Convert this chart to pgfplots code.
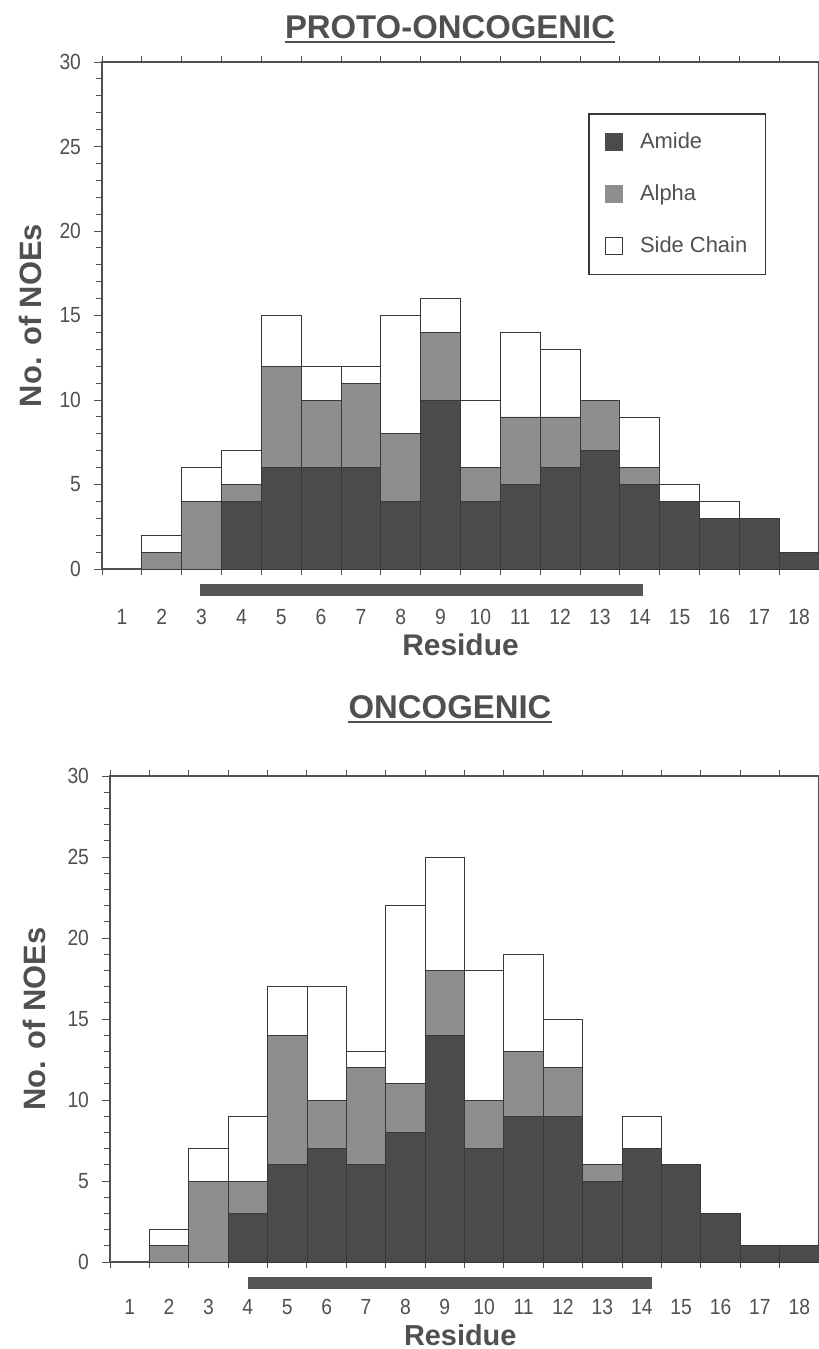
\documentclass[border=0pt]{standalone}
\usepackage{pgfplots}
\pgfplotsset{compat=1.18}
\usepackage{pgfplotstable}
\usepackage{fontspec}
\setmainfont{Liberation Sans}
\newfontfamily\narrow[FakeStretch=0.88]{Liberation Sans}

\definecolor{ink}{HTML}{505050}
\definecolor{edge}{HTML}{383838}
\definecolor{amide}{HTML}{4B4B4B}
\definecolor{alphag}{HTML}{8E8E8E}
\definecolor{barc}{HTML}{555555}

% residue, amide, alpha (added on top), side chain (added on top)
\pgfplotstableread{
res amide alpha side
1  0  0  0
2  0  1  1
3  0  4  2
4  4  1  2
5  6  6  3
6  6  4  2
7  6  5  1
8  4  4  7
9  10 4  2
10 4  2  4
11 5  4  5
12 6  3  4
13 7  3  0
14 5  1  3
15 4  0  1
16 3  0  1
17 3  0  0
18 1  0  0
}\proto

\pgfplotstableread{
res amide alpha side
1  0  0  0
2  0  1  1
3  0  5  2
4  3  2  4
5  6  8  3
6  7  3  7
7  6  6  1
8  8  3  11
9  14 4  7
10 7  3  8
11 9  4  6
12 9  3  3
13 5  1  0
14 7  0  2
15 6  0  0
16 3  0  0
17 1  0  0
18 1  0  0
}\onco

\pgfplotsset{noeaxis/.style={
  ybar stacked, bar width=1,
  scale only axis,
  xmin=0.5, xmax=18.5, ymin=0, ymax=30,
  xtick={1,...,18},
  major x tick style={draw=none},
  minor xtick={0.5,1.5,...,18.5},
  ytick={0,5,...,30},
  minor ytick={1,...,29},
  tick align=outside,
  major tick length=4bp, minor tick length=3bp,
  axis line style={ink, line width=0.6bp},
  tick style={ink, line width=0.5bp},
  /pgf/number format/assume math mode=true,
  tick label style={font=\narrow\fontsize{11}{13}\selectfont, text=ink},
  xticklabel style={anchor=center, yshift=-20bp, inner sep=0pt},
  yticklabel style={xshift=-3bp},
  xlabel={Residue}, ylabel={No. of NOEs},
  clip=false,
}}

\begin{document}
\begin{tikzpicture}
\useasboundingbox (0,0) rectangle (409.5bp,-674.5bp);

% titles
\coordinate (u1) at (0,-21bp);
\node[font=\bfseries\fontsize{16.5}{19}\selectfont, text=ink, inner sep=0pt] (t1) at (225bp,-13.5bp) {PROTO-ONCOGENIC};
\draw[ink, line width=1bp] (t1.west |- u1) -- (t1.east |- u1);
\coordinate (u2) at (0,-361bp);
\node[font=\bfseries\fontsize{16.5}{19}\selectfont, text=ink, inner sep=0pt] (t2) at (225bp,-353.5bp) {ONCOGENIC};
\draw[ink, line width=1bp] (t2.west |- u2) -- (t2.east |- u2);

% top panel
\begin{axis}[noeaxis,
  at={(51bp,-284.5bp)}, anchor=south west,
  width=358.5bp, height=253.5bp,
  every axis x label/.style={at={(axis description cs:0.5,0)}, anchor=center, yshift=-38bp,
    inner sep=0pt, font=\bfseries\fontsize{15}{18}\selectfont, text=ink},
  every axis y label/.style={at={(axis description cs:-0.1,0.5)}, rotate=90, anchor=center,
    font=\bfseries\fontsize{15.5}{18}\selectfont, text=ink},
  legend style={at={(0.678,0.899)}, anchor=north west, draw=edge, line width=0.7bp,
    font=\fontsize{11}{13}\selectfont, text=ink, row sep=12.5bp, column sep=7.5bp,
    inner xsep=8bp, inner ysep=7.5bp, nodes={inner xsep=1bp}},
  legend cell align=left,
]
\addplot[fill=amide, draw=edge, line width=0.4bp,
  legend image code/.code={\fill[amide] (0bp,-4.25bp) rectangle (8.5bp,4.25bp);}]
  table[x=res, y=amide] {\proto};
\addplot[fill=alphag, draw=edge, line width=0.4bp,
  legend image code/.code={\fill[alphag] (0bp,-4.25bp) rectangle (8.5bp,4.25bp);}]
  table[x=res, y=alpha] {\proto};
\addplot[fill=white, draw=edge, line width=0.4bp,
  legend image code/.code={\draw[edge, line width=0.6bp, fill=white] (0bp,-4.25bp) rectangle (8.5bp,4.25bp);}]
  table[x=res, y=side] {\proto};
\legend{Amide, Alpha, Side Chain}
\fill[barc] (axis cs:2.96,-0.89) rectangle (axis cs:14.07,-1.6);
\end{axis}

% bottom panel
\begin{axis}[noeaxis,
  at={(55bp,-631bp)}, anchor=south west,
  width=354.5bp, height=243bp,
  xticklabel style={yshift=1.5bp},
  every axis x label/.style={at={(axis description cs:0.494,0)}, anchor=center, yshift=-36.5bp,
    inner sep=0pt, font=\bfseries\fontsize{14.5}{17}\selectfont, text=ink},
  every axis y label/.style={at={(axis description cs:-0.107,0.5)}, rotate=90, anchor=center,
    font=\bfseries\fontsize{15.5}{18}\selectfont, text=ink},
]
\addplot[fill=amide, draw=edge, line width=0.4bp] table[x=res, y=amide] {\onco};
\addplot[fill=alphag, draw=edge, line width=0.4bp] table[x=res, y=alpha] {\onco};
\addplot[fill=white, draw=edge, line width=0.4bp] table[x=res, y=side] {\onco};
\fill[barc] (axis cs:4,-0.93) rectangle (axis cs:14.25,-1.67);
\end{axis}
\end{tikzpicture}
\end{document}
